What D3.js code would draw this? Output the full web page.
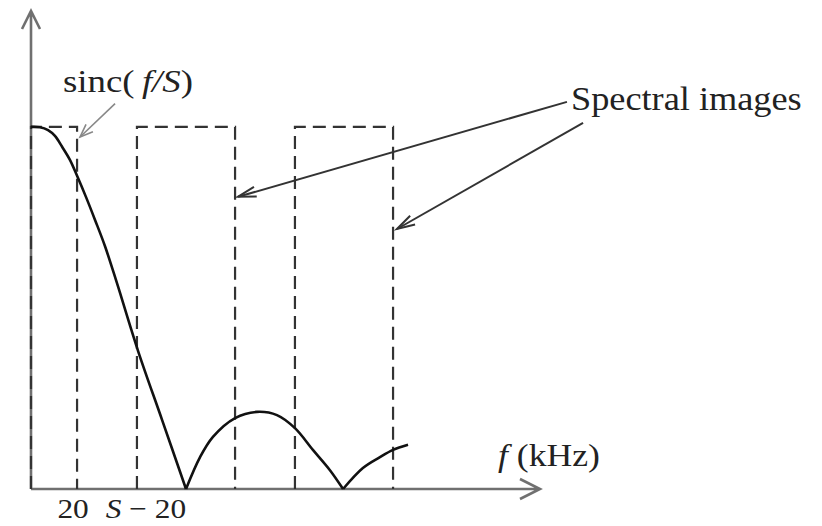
<!DOCTYPE html>
<html>
<head>
<meta charset="utf-8">
<script src="https://cdn.jsdelivr.net/npm/d3@7"></script>
<style>
    body { margin: 0; background: #fff; }
    svg { display: block; }
    text { font-family: "Liberation Serif", "Times New Roman", serif; fill: #222; }
</style>
</head>
<body>
<div id="chart"></div>
<script>
// sinc(f/S) lobes: [f in kHz, relative amplitude]
const mainLobe = [
    [0, 1.0], [3.9, 0.999], [7.4, 0.991], [10.4, 0.975], [13.5, 0.945],
    [16.9, 0.909], [20.0, 0.865], [23.9, 0.806], [27.8, 0.743], [32.1, 0.671],
    [37.3, 0.569], [46.5, 0.381], [56.9, 0.191], [67.3, 0]
];
const secondLobe = [
    [67.3, 0], [73.4, 0.088], [79.0, 0.144], [88.6, 0.196], [98.1, 0.213],
    [106.8, 0.204], [114.6, 0.168], [122.4, 0.108], [129.8, 0.052], [135.5, 0]
];
const thirdLobe = [
    [135.5, 0], [144.1, 0.058], [151.5, 0.088], [157.2, 0.108], [163.7, 0.122]
];

// dashed spectral bands: [start, end] in kHz, height 1
const bands = [[0, 20], [46.0, 88.6], [114.6, 157.2]];
const bandHeight = 1.0;

// tick labels under the f axis
const tickValues = [20, 46];
const tickLabels = ['20', 'S − 20'];

// annotation arrows: from [f, amp] to [f, amp]
const spectralArrows = [
    [[232.7, 1.069], [89.9, 0.807]],
    [[239.7, 1.011], [158.9, 0.718]]
];
const sincArrow = [[36.5, 1.064], [21.3, 0.972]];

window.onload = function () {
    const width = 822;
    const height = 526;

    const svg = d3.select('#chart').append('svg')
        .attr('width', width)
        .attr('height', height);

    // scales
    const x = d3.scaleLinear().domain([0, 221]).range([31, 540]);
    const y = d3.scaleLinear().domain([0, 1.32]).range([489, 11]);

    // arrowheads
    const defs = svg.append('defs');
    defs.append('marker')
        .attr('id', 'head')
        .attr('viewBox', '-20 -8 24 16')
        .attr('markerUnits', 'userSpaceOnUse')
        .attr('markerWidth', 24)
        .attr('markerHeight', 16)
        .attr('refX', 0)
        .attr('refY', 0)
        .attr('orient', 'auto')
        .append('path')
        .attr('d', 'M-18,-5 L0,0 L-18,5')
        .attr('fill', 'none')
        .attr('stroke', '#333')
        .attr('stroke-width', 2);
    defs.append('marker')
        .attr('id', 'headLight')
        .attr('viewBox', '-20 -8 24 16')
        .attr('markerUnits', 'userSpaceOnUse')
        .attr('markerWidth', 24)
        .attr('markerHeight', 16)
        .attr('refX', 0)
        .attr('refY', 0)
        .attr('orient', 'auto')
        .append('path')
        .attr('d', 'M-13,-5 L0,0 L-13,5')
        .attr('fill', 'none')
        .attr('stroke', '#888')
        .attr('stroke-width', 1.6);

    // axes with open arrowheads
    const axisColor = '#707070';
    const x0 = x(0), y0 = y(0), xEnd = x.range()[1], yTop = y.range()[1];
    svg.append('path')
        .attr('d', `M${x0},${y0} L${xEnd},${y0} M${xEnd - 20},${y0 - 10} L${xEnd},${y0} L${xEnd - 20},${y0 + 10}`)
        .attr('fill', 'none')
        .attr('stroke', axisColor)
        .attr('stroke-width', 2.6);
    svg.append('path')
        .attr('d', `M${x0},${y0} L${x0},${yTop} M${x0 - 9},${yTop + 18} L${x0},${yTop} L${x0 + 9},${yTop + 18}`)
        .attr('fill', 'none')
        .attr('stroke', axisColor)
        .attr('stroke-width', 2.6);

    // dashed bands (open at the bottom)
    svg.append('g')
        .selectAll('path')
        .data(bands)
        .join('path')
        .attr('d', d => `M${x(d[0])},${y(0)} L${x(d[0])},${y(bandHeight)} L${x(d[1])},${y(bandHeight)} L${x(d[1])},${y(0)}`)
        .attr('fill', 'none')
        .attr('stroke', '#333')
        .attr('stroke-width', 2.2)
        .attr('stroke-dasharray', '13,7');

    // sinc curve
    const line = d3.line()
        .x(d => x(d[0]))
        .y(d => y(d[1]))
        .curve(d3.curveCatmullRom.alpha(0.5));

    svg.append('g')
        .selectAll('path')
        .data([mainLobe, secondLobe, thirdLobe])
        .join('path')
        .attr('d', line)
        .attr('fill', 'none')
        .attr('stroke', '#111')
        .attr('stroke-width', 2.6)
        .attr('stroke-linejoin', 'round');

    // tick labels
    const tl = svg.append('g');
    tl.append('text')
        .attr('transform', `translate(${x(tickValues[0]) - 4},518) scale(1.12,1)`)
        .attr('text-anchor', 'middle')
        .attr('font-size', 28)
        .text(tickLabels[0]);
    const t2 = tl.append('text')
        .attr('transform', `translate(${x(tickValues[1]) + 9},518) scale(1.12,1)`)
        .attr('text-anchor', 'middle')
        .attr('font-size', 28);
    t2.append('tspan').attr('font-style', 'italic').text(tickLabels[1].slice(0, 1));
    t2.append('tspan').text(tickLabels[1].slice(1));

    // axis title
    const xt = svg.append('text')
        .attr('transform', 'translate(498,466) scale(1.15,1)')
        .attr('font-size', 31);
    xt.append('tspan').attr('font-style', 'italic').text('f');
    xt.append('tspan').text(' (kHz)');

    // sinc label
    const st = svg.append('text')
        .attr('transform', 'translate(63,92) scale(1.15,1)')
        .attr('font-size', 32);
    st.append('tspan').text('sinc(');
    st.append('tspan').attr('font-style', 'italic').text('\u2009f/S');
    st.append('tspan').text(')');

    // spectral images label
    svg.append('text')
        .attr('transform', 'translate(571,110) scale(1.1,1)')
        .attr('font-size', 33)
        .text('Spectral images');

    // annotation arrows
    svg.append('g')
        .selectAll('line')
        .data(spectralArrows)
        .join('line')
        .attr('x1', d => x(d[0][0]))
        .attr('y1', d => y(d[0][1]))
        .attr('x2', d => x(d[1][0]))
        .attr('y2', d => y(d[1][1]))
        .attr('stroke', '#333')
        .attr('stroke-width', 2)
        .attr('marker-end', 'url(#head)');

    svg.append('line')
        .attr('x1', x(sincArrow[0][0]))
        .attr('y1', y(sincArrow[0][1]))
        .attr('x2', x(sincArrow[1][0]))
        .attr('y2', y(sincArrow[1][1]))
        .attr('stroke', '#888')
        .attr('stroke-width', 1.6)
        .attr('marker-end', 'url(#headLight)');
}
</script>
</body>
</html>
